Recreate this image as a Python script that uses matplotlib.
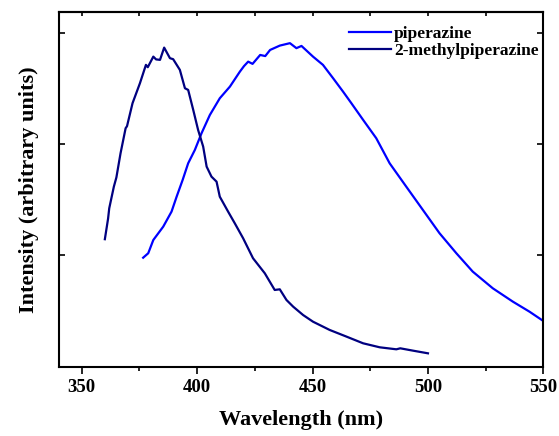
import matplotlib.pyplot as plt
from matplotlib.ticker import MultipleLocator

# Emission spectra (intensity in arbitrary units)
pip_wl = [376.6, 378.8, 381.0, 385.3, 388.9, 391.1, 393.7, 396.1, 399.0, 401.9,
          405.5, 409.8, 414.2, 418.5, 420.3, 422.1, 424.0, 427.3, 429.5, 431.6,
          435.8, 440.2, 443.0, 445.2, 450.2, 454.5, 458.9, 463.2, 466.8, 471.9,
          477.6, 483.4, 490.6, 497.8, 505.0, 512.3, 519.4, 528.1, 536.8, 544.0, 549.8]
pip_int = [0.979, 1.019, 1.138, 1.258, 1.393, 1.527, 1.677, 1.827, 1.947, 2.097,
           2.261, 2.411, 2.516, 2.650, 2.700, 2.740, 2.720, 2.800, 2.790, 2.845,
           2.884, 2.906, 2.861, 2.881, 2.785, 2.711, 2.591, 2.471, 2.367, 2.217,
           2.052, 1.827, 1.617, 1.408, 1.199, 1.019, 0.854, 0.704, 0.584, 0.494, 0.413]

mpip_wl = [360.0, 361.4, 361.9, 363.9, 365.0, 366.8, 369.0, 369.6, 372.0, 375.2,
           377.8, 378.6, 381.0, 382.2, 383.9, 385.7, 388.2, 389.6, 392.5, 394.7,
           396.1, 398.3, 400.4, 402.6, 404.1, 406.2, 408.4, 409.8, 413.4, 416.3,
           419.9, 424.2, 429.3, 433.6, 435.8, 438.7, 441.6, 445.9, 450.2, 457.4,
           464.7, 471.9, 479.1, 486.3, 488.0, 493.5, 500.0]
mpip_int = [1.145, 1.330, 1.423, 1.617, 1.700, 1.917, 2.142, 2.160, 2.367, 2.546,
            2.711, 2.690, 2.785, 2.760, 2.756, 2.866, 2.771, 2.762, 2.666, 2.501,
            2.486, 2.306, 2.127, 1.977, 1.797, 1.707, 1.662, 1.527, 1.393, 1.288,
            1.154, 0.974, 0.839, 0.689, 0.695, 0.599, 0.539, 0.464, 0.404, 0.330,
            0.270, 0.210, 0.174, 0.156, 0.165, 0.144, 0.120]

plt.rcParams['font.family'] = ['Liberation Serif', 'DejaVu Serif']
plt.rcParams['font.weight'] = 'bold'

fig = plt.figure(figsize=(5.59, 4.36), dpi=100)
ax = fig.add_axes([0.105, 0.159, 0.867, 0.813])

ax.plot(pip_wl, pip_int, color='#0000ff', lw=1.6, label='piperazine')
ax.plot(mpip_wl, mpip_int, color='#000080', lw=1.6, label='2-methylpiperazine')

ax.set_xlim(340, 550)
ax.set_ylim(0, 3.184)
ax.xaxis.set_major_locator(MultipleLocator(50))
ax.xaxis.set_minor_locator(MultipleLocator(25))
ax.yaxis.set_major_locator(MultipleLocator(1))
ax.tick_params(axis='x', which='both', direction='out', labelsize=13.5, pad=4)
ax.tick_params(axis='x', which='major', length=5, width=1.2)
ax.tick_params(axis='x', which='minor', length=3, width=1.2)
ax.tick_params(axis='y', direction='in', left=True, right=True,
               labelleft=False, length=4, width=1.2)
for lbl in ax.get_xticklabels():
    lbl.set_fontweight('bold')

top = ax.secondary_xaxis('top')
top.xaxis.set_major_locator(MultipleLocator(25))
top.tick_params(direction='in', length=3, width=1.2, labeltop=False)

for sp in ax.spines.values():
    sp.set_linewidth(1.5)
top.spines['top'].set_linewidth(1.5)

ax.set_xlabel('Wavelength (nm)', fontsize=16, fontweight='bold', labelpad=10)
ax.set_ylabel('Intensity (arbitrary units)', fontsize=16, fontweight='bold', labelpad=14)

ax.legend(loc='upper right', frameon=False, fontsize=12.5, handlelength=2.4,
          handletextpad=0.2, labelspacing=0.05, borderaxespad=0.2,
          bbox_to_anchor=(1.012, 0.99))

fig.savefig('out.png', dpi=100)
